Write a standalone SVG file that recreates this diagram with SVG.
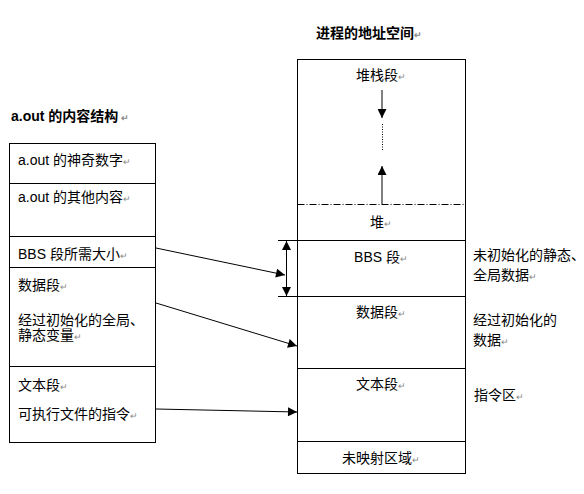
<svg xmlns="http://www.w3.org/2000/svg" width="584" height="494" viewBox="0 0 584 494">
<style>
.t{font-family:"Liberation Sans","Noto Sans CJK SC",sans-serif;font-size:14px;fill:#000}
.b{font-weight:bold;font-size:14px}
.m{fill:#888;font-size:9px}
.box{fill:#fff;stroke:#000;stroke-width:1}
.ln{stroke:#000;stroke-width:1;fill:none}
</style>
<defs>
<marker id="ah" viewBox="0 0 10 10" refX="10" refY="5" markerWidth="10" markerHeight="9" markerUnits="userSpaceOnUse" orient="auto">
<path d="M0,0 L10,5 L0,10 Z" fill="#000"/>
</marker>
</defs>
<rect width="584" height="494" fill="#fff"/>
<g id="title-left"><text class="t b" x="11" y="121">a.out 的内容结构<tspan class="m" dx="3">↵</tspan></text></g>
<g id="title-right"><text class="t b" x="316" y="38">进程的地址空间<tspan class="m">↵</tspan></text></g>
<g id="aout">
<rect class="box" x="9.5" y="143.5" width="146" height="299"/>
<line class="ln" x1="9.5" y1="183.5" x2="155.5" y2="183.5"/>
<line class="ln" x1="9.5" y1="236.5" x2="155.5" y2="236.5"/>
<line class="ln" x1="9.5" y1="267.5" x2="155.5" y2="267.5"/>
<line class="ln" x1="9.5" y1="366.5" x2="155.5" y2="366.5"/>
<text class="t" x="18" y="165">a.out 的神奇数字<tspan class="m">↵</tspan></text>
<text class="t" x="18" y="202">a.out 的其他内容<tspan class="m">↵</tspan></text>
<text class="t" x="18" y="259">BBS 段所需大小<tspan class="m">↵</tspan></text>
<text class="t" x="18" y="290">数据段<tspan class="m">↵</tspan></text>
<text class="t" x="18" y="325">经过初始化的全局、</text>
<text class="t" x="18" y="340">静态变量<tspan class="m">↵</tspan></text>
<text class="t" x="18" y="390">文本段<tspan class="m">↵</tspan></text>
<text class="t" x="18" y="419">可执行文件的指令<tspan class="m">↵</tspan></text>
</g>
<g id="proc">
<rect class="box" x="297.5" y="59.5" width="168" height="414"/>
<line class="ln" x1="297.5" y1="204.5" x2="465.5" y2="204.5" stroke-dasharray="7 2 1 2"/>
<line class="ln" x1="297.5" y1="240.5" x2="465.5" y2="240.5"/>
<line class="ln" x1="297.5" y1="296.5" x2="465.5" y2="296.5"/>
<line class="ln" x1="297.5" y1="368.5" x2="465.5" y2="368.5"/>
<line class="ln" x1="297.5" y1="441.5" x2="465.5" y2="441.5"/>
<text class="t" x="381" y="80" text-anchor="middle">堆栈段<tspan class="m">↵</tspan></text>
<text class="t" x="381" y="227" text-anchor="middle">堆<tspan class="m">↵</tspan></text>
<text class="t" x="381" y="262" text-anchor="middle">BBS 段<tspan class="m">↵</tspan></text>
<text class="t" x="381" y="317" text-anchor="middle">数据段<tspan class="m">↵</tspan></text>
<text class="t" x="381" y="389" text-anchor="middle">文本段<tspan class="m">↵</tspan></text>
<text class="t" x="381" y="463" text-anchor="middle">未映射区域<tspan class="m">↵</tspan></text>
</g>
<g id="notes">
<text class="t" x="473" y="260">未初始化的静态、</text>
<text class="t" x="473" y="280">全局数据<tspan class="m">↵</tspan></text>
<text class="t" x="473" y="325">经过初始化的</text>
<text class="t" x="473" y="345">数据<tspan class="m">↵</tspan></text>
<text class="t" x="474" y="400">指令区<tspan class="m">↵</tspan></text>
</g>
<g id="connectors">
<line class="ln" x1="382" y1="90" x2="382" y2="118" marker-end="url(#ah)"/>
<line class="ln" x1="382.5" y1="124" x2="382.5" y2="151" stroke-dasharray="1 1.5"/>
<line class="ln" x1="382" y1="204" x2="382" y2="166" marker-end="url(#ah)"/>
<line class="ln" x1="278" y1="240.5" x2="297" y2="240.5"/>
<line class="ln" x1="278" y1="296.5" x2="297" y2="296.5"/>
<line class="ln" x1="286.5" y1="252" x2="286.5" y2="241" marker-end="url(#ah)"/>
<line class="ln" x1="286.5" y1="250" x2="286.5" y2="296" marker-end="url(#ah)"/>
<line class="ln" x1="156" y1="248" x2="285" y2="275" marker-end="url(#ah)"/>
<line class="ln" x1="156" y1="303" x2="297" y2="346" marker-end="url(#ah)"/>
<line class="ln" x1="156" y1="409" x2="297" y2="412" marker-end="url(#ah)"/>
</g>
</svg>
